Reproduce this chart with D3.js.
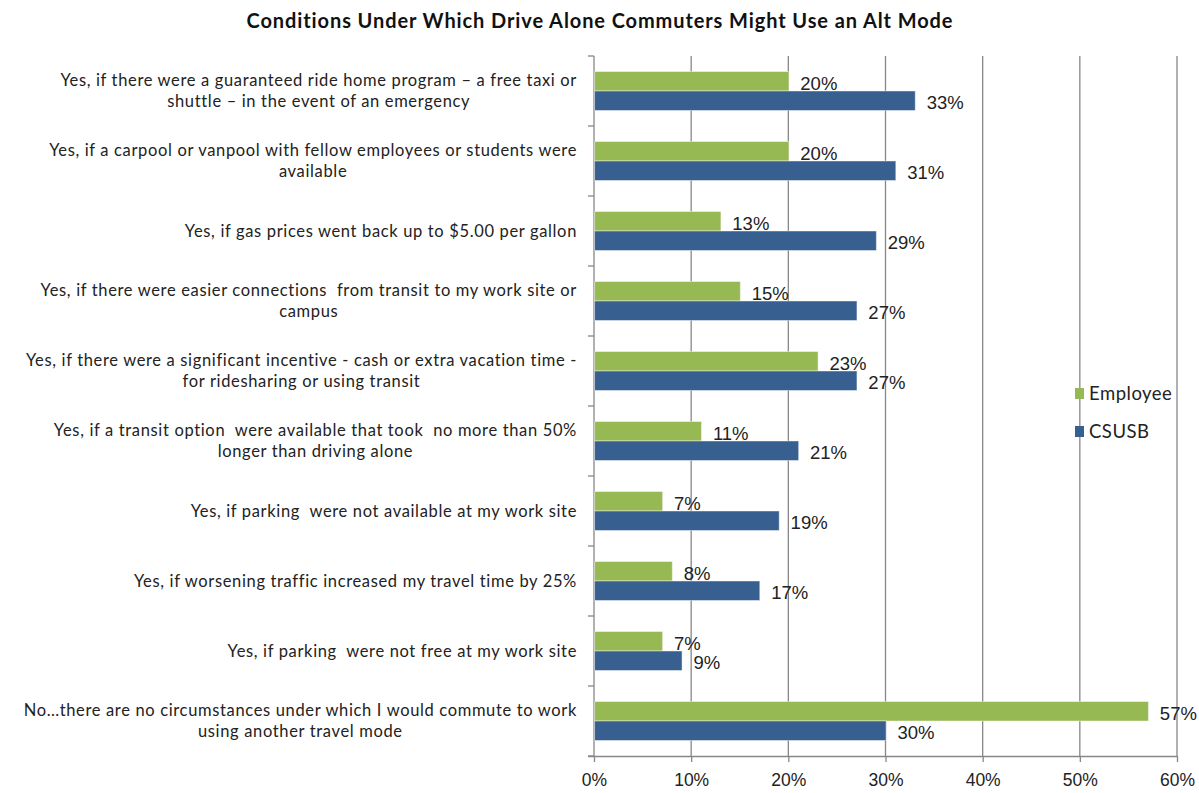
<!DOCTYPE html>
<html>
<head>
<meta charset="utf-8">
<script src="https://cdn.jsdelivr.net/npm/d3@7"></script>
<style>
  html, body { margin: 0; padding: 0; background: #fff; }
  svg { display: block; }
</style>
</head>
<body>
<svg id="chart" width="1199" height="793"></svg>
<script>
// Survey responses: conditions under which drive-alone commuters might switch modes
const categories = [
  ["Yes, if there were a guaranteed ride home program \u2013 a free taxi or", "shuttle \u2013 in the event of an emergency"],
  ["Yes, if a carpool or vanpool with fellow employees or students were", "available"],
  ["Yes, if gas prices went back up to $5.00 per gallon"],
  ["Yes, if there were easier connections  from transit to my work site or", "campus"],
  ["Yes, if there were a significant incentive - cash or extra vacation time -", "for ridesharing or using transit"],
  ["Yes, if a transit option  were available that took  no more than 50%", "longer than driving alone"],
  ["Yes, if parking  were not available at my work site"],
  ["Yes, if worsening traffic increased my travel time by 25%"],
  ["Yes, if parking  were not free at my work site"],
  ["No\u2026there are no circumstances under which I would commute to work", "using another travel mode"]
];
const seriesNames = ["Employee", "CSUSB"];
const employeeValues = [20, 20, 13, 15, 23, 11, 7, 8, 7, 57];
const csusbValues = [33, 31, 29, 27, 27, 21, 19, 17, 9, 30];
const xTicks = [0, 10, 20, 30, 40, 50, 60];
const titleText = "Conditions Under Which Drive Alone Commuters Might Use an Alt Mode";

const seriesValues = [employeeValues, csusbValues];
const colors = { Employee: "#97b954", CSUSB: "#375f8f" };

const svg = d3.select("#chart");
const margin = { left: 594, right: 22, top: 56, bottom: 37 };
const W = 1199, H = 793;

const x = d3.scaleLinear().domain([0, 60]).range([margin.left, W - margin.right]);
const y = d3.scaleBand()
  .domain(d3.range(categories.length))
  .range([margin.top, H - margin.bottom])
  .paddingInner(0.443)
  .paddingOuter(0.2215);
const ySub = d3.scaleBand().domain(seriesNames).range([0, y.bandwidth()]);

const labelFont = "Lato, 'Open Sans', sans-serif";
const numFont = "'Liberation Sans', Arial, sans-serif";

// Title
svg.append("text")
  .attr("x", 600).attr("y", 28)
  .attr("text-anchor", "middle")
  .attr("font-family", labelFont)
  .attr("font-weight", "bold")
  .attr("font-size", 20)
  .attr("letter-spacing", 0.9)
  .attr("fill", "#111")
  .text(titleText);

// Vertical gridlines
svg.append("g")
  .selectAll("line")
  .data(xTicks.filter(d => d > 0))
  .join("line")
  .attr("x1", d => x(d)).attr("x2", d => x(d))
  .attr("y1", margin.top).attr("y2", H - margin.bottom)
  .attr("stroke", "#878787").attr("stroke-width", 1.3);

// Bottom axis
const xAxis = d3.axisBottom(x)
  .tickValues(xTicks)
  .tickFormat(d => d + "%")
  .tickSizeInner(6).tickSizeOuter(0).tickPadding(12);
const gx = svg.append("g")
  .attr("transform", `translate(0,${H - margin.bottom})`)
  .call(xAxis);
gx.select(".domain").attr("stroke", "#878787").attr("stroke-width", 1.3)
  .attr("d", `M${margin.left - 6},0.5H${W - margin.right}`);
gx.selectAll(".tick line").attr("stroke", "#878787").attr("stroke-width", 1.3);
gx.selectAll(".tick text")
  .attr("font-family", numFont).attr("font-size", 17.5).attr("fill", "#222");

// Left axis line with ticks at category boundaries
const step = y.step();
const boundaries = d3.range(categories.length + 1).map(i => margin.top + i * step);
const gy = svg.append("g");
gy.append("line")
  .attr("x1", margin.left).attr("x2", margin.left)
  .attr("y1", margin.top).attr("y2", H - margin.bottom)
  .attr("stroke", "#878787").attr("stroke-width", 1.3);
gy.selectAll("line.tk")
  .data(boundaries)
  .join("line").attr("class", "tk")
  .attr("x1", margin.left - 6).attr("x2", margin.left)
  .attr("y1", d => d).attr("y2", d => d)
  .attr("stroke", "#878787").attr("stroke-width", 1.3);

// Bars
const groups = svg.append("g")
  .selectAll("g")
  .data(categories.map((c, i) => i))
  .join("g")
  .attr("transform", i => `translate(0,${y(i)})`);

groups.selectAll("rect")
  .data(i => seriesNames.map((s, k) => ({ s, v: seriesValues[k][i] })))
  .join("rect")
  .attr("x", x(0) + 0.6)
  .attr("y", d => ySub(d.s))
  .attr("width", d => x(d.v) - x(0))
  .attr("height", ySub.bandwidth())
  .attr("fill", d => colors[d.s])
  .attr("stroke", "rgba(255,255,255,0.45)")
  .attr("stroke-width", 1);

// Value labels
groups.selectAll("text.val")
  .data(i => seriesNames.map((s, k) => ({ s, v: seriesValues[k][i] })))
  .join("text").attr("class", "val")
  .attr("x", d => x(d.v) + 12)
  .attr("y", d => ySub(d.s) + ySub.bandwidth() / 2 + 2)
  .attr("dy", "0.35em")
  .attr("font-family", numFont)
  .attr("font-size", 18.5)
  .attr("fill", "#222")
  .text(d => d.v + "%");

// Category labels: lines centred on each other, block right-aligned to the axis
const labelRight = margin.left - 17;
const lineH = 21;
const catG = svg.append("g")
  .attr("font-family", labelFont)
  .attr("font-size", 16.5)
  .attr("letter-spacing", 0.65)
  .attr("fill", "#222");
categories.forEach((lines, i) => {
  const cy = y(i) + y.bandwidth() / 2;
  const t = catG.append("text").attr("text-anchor", "middle");
  const spans = lines.map((ln, j) =>
    t.append("tspan")
      .attr("y", cy + (j - (lines.length - 1) / 2) * lineH)
      .attr("dy", "0.35em")
      .attr("xml:space", "preserve")
      .text(ln)
  );
  const widths = spans.map(s => s.node().getComputedTextLength());
  const maxW = d3.max(widths);
  const cx = labelRight - maxW / 2;
  spans.forEach(s => s.attr("x", cx));
});

// Legend
const legend = svg.append("g");
seriesNames.forEach((s, k) => {
  const ly = 394 + k * 38;
  legend.append("rect")
    .attr("x", 1075).attr("y", ly - 6)
    .attr("width", 9).attr("height", 11)
    .attr("fill", colors[s]);
  legend.append("text")
    .attr("x", 1089).attr("y", ly)
    .attr("dy", "0.35em")
    .attr("font-family", labelFont)
    .attr("font-size", 18.5)
    .attr("letter-spacing", 0.5)
    .attr("fill", "#222")
    .text(s);
});
</script>
</body>
</html>
